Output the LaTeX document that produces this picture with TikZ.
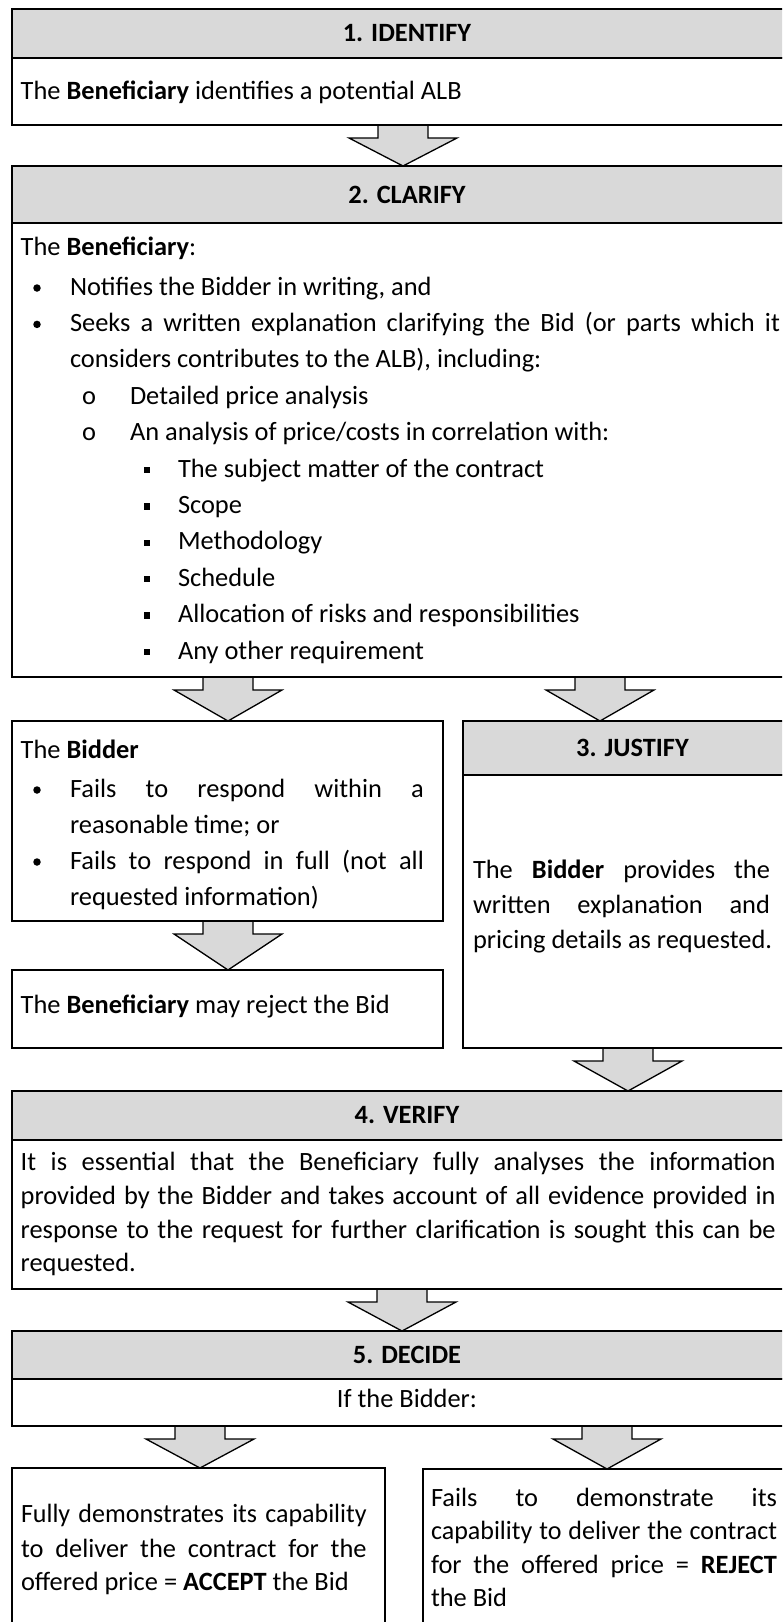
\documentclass[tikz,border=0pt]{standalone}
\usepackage{fontspec}
\usepackage{graphicx}
\setmainfont{Carlito}
\usetikzlibrary{calc}
\definecolor{hdrgray}{HTML}{D9D9D9}
\newcommand\basefont{\fontsize{26.4}{32}\selectfont}
\tikzset{
  frame/.style={draw=black, line width=2pt, anchor=north west, inner sep=0pt, outer sep=0pt},
  hdr/.style={frame, fill=hdrgray, font=\basefont\bfseries},
  bodybox/.style={frame, fill=white},
  txt/.style={anchor=base west, inner sep=0pt, outer sep=0pt, font=\basefont},
  ctxt/.style={txt, anchor=base},
  dot/.style={circle, fill=black, inner sep=0pt, minimum size=7.5pt},
  sq/.style={rectangle, fill=black, inner sep=0pt, minimum size=6.5pt},
  blockarr/.style={draw=black, line width=1.3pt, fill=hdrgray, line join=miter}
}
\newcommand\blockarrow[3]{%
  \path (#1,0 |- #2.south) coordinate (atop) (#1,0 |- #3.north) coordinate (abot);
  \draw[blockarr] ($(atop)+(-25,1)$) -- ($(atop)+(-25,13)$) -- ($(atop)+(-54,13)$) -- (abot)
    -- ($(atop)+(54,13)$) -- ($(atop)+(25,13)$) -- ($(atop)+(25,1)$);
}
% condensed justified line: unscaled width, horizontal factor, text
\newcommand\tightline[3]{\scalebox{#2}[1]{\makebox[#1][s]{#3}}}
\begin{document}
\begin{tikzpicture}[x=1pt,y=-1pt]
\useasboundingbox (0,0) rectangle (782,1622);
\fill[white] (0,0) rectangle (782,1622);
\clip (0,0) rectangle (782,1622);

% ---- 1. IDENTIFY
\node[hdr, minimum width=790pt, minimum height=48.5pt] (h1) at (12,9) {1. IDENTIFY};
\node[bodybox, minimum width=790pt, minimum height=67.5pt] (b1) at (12,57.5) {};
\node[txt] (t1) at (20.7,99) {The \textbf{Beneficiary} identifies a potential ALB};

% ---- 2. CLARIFY
\node[hdr, minimum width=790pt, minimum height=57pt] (h2) at (12,166) {2. CLARIFY};
\node[bodybox, minimum width=790pt, minimum height=454pt] (b2) at (12,223) {};
\node[txt] (c0) at (20.7,255) {The \textbf{Beneficiary}:};
\node[dot] (d1) at (37,288) {};
\node[txt] (c1) at (70,295) {Notifies the Bidder in writing, and};
\node[dot] (d2) at (37,324.4) {};
\node[txt] (c2) at (70,331.4) {\makebox[710pt][s]{Seeks a written explanation clarifying the Bid (or parts which it}};
\node[txt] (c3) at (70,367.8) {considers contributes to the ALB), including:};
\node[ctxt] (o1) at (89,404.2) {o};
\node[txt] (c4) at (130,404.2) {Detailed price analysis};
\node[ctxt] (o2) at (89,440.6) {o};
\node[txt] (c5) at (130,440.6) {An analysis of price/costs in correlation with:};
\node[sq] (s1) at (147,470) {};
\node[txt] (c6) at (178,477) {The subject matter of the contract};
\node[sq] (s2) at (147,506.4) {};
\node[txt] (c7) at (178,513.4) {Scope};
\node[sq] (s3) at (147,542.8) {};
\node[txt] (c8) at (178,549.8) {Methodology};
\node[sq] (s4) at (147,579.2) {};
\node[txt] (c9) at (178,586.2) {Schedule};
\node[sq] (s5) at (147,615.6) {};
\node[txt] (c10) at (178,622.6) {Allocation of risks and responsibilities};
\node[sq] (s6) at (147,652) {};
\node[txt] (c11) at (178,659) {Any other requirement};

% ---- Bidder fails
\node[bodybox, minimum width=431pt, minimum height=200pt] (bl) at (12,721) {};
\node[txt] (f0) at (20.7,758) {The \textbf{Bidder}};
\node[dot] (d3) at (37,790) {};
\node[txt] (f1) at (70,797) {\makebox[354pt][s]{Fails to respond within a}};
\node[txt] (f2) at (70,833) {reasonable time; or};
\node[dot] (d4) at (37,862) {};
\node[txt] (f3) at (70,869) {\makebox[354pt][s]{Fails to respond in full (not all}};
\node[txt] (f4) at (70,905) {requested information)};

% ---- Beneficiary may reject
\node[bodybox, minimum width=431pt, minimum height=78pt] (rl) at (12,970) {};
\node[txt] (m1) at (20.7,1013) {The \textbf{Beneficiary} may reject the Bid};

% ---- 3. JUSTIFY
\node[hdr, minimum width=339pt, minimum height=54pt] (h3) at (463,721) {3. JUSTIFY};
\node[bodybox, minimum width=339pt, minimum height=273pt] (b3) at (463,775) {};
\node[txt] (j1) at (473,878) {\makebox[297pt][s]{The \textbf{Bidder} provides the}};
\node[txt] (j2) at (473,913) {\makebox[297pt][s]{written explanation and}};
\node[txt] (j3) at (473,948) {pricing details as requested.};

% ---- 4. VERIFY
\node[hdr, minimum width=790pt, minimum height=49pt] (h4) at (12,1091) {4. VERIFY};
\node[bodybox, minimum width=790pt, minimum height=149pt] (b4) at (12,1140) {};
\node[txt] (v1) at (20.7,1170) {\makebox[755pt][s]{It is essential that the Beneficiary fully analyses the information}};
\node[txt] (v2) at (20.7,1204) {\makebox[755pt][s]{provided by the Bidder and takes account of all evidence provided in}};
\node[txt] (v3) at (20.7,1238) {\makebox[755pt][s]{response to the request for further clarification is sought this can be}};
\node[txt] (v4) at (20.7,1271) {requested.};

% ---- 5. DECIDE
\node[hdr, minimum width=790pt, minimum height=48pt] (h5) at (12,1331) {5. DECIDE};
\node[bodybox, minimum width=790pt, minimum height=47pt] (b5) at (12,1379) {};
\node[ctxt] (i1) at (407,1407) {If the Bidder:};

% ---- Accept / Reject
\node[bodybox, minimum width=373pt, minimum height=180pt] (ba) at (12,1468) {};
\node[txt] (a1) at (21,1522.5) {\tightline{351pt}{0.985}{Fully demonstrates its capability}};
\node[txt] (a2) at (21,1557) {\makebox[345.6pt][s]{to deliver the contract for the}};
\node[txt] (a3) at (21,1590) {offered price = \textbf{ACCEPT} the Bid};

\node[bodybox, minimum width=379pt, minimum height=180pt] (br) at (423,1469) {};
\node[txt] (r1) at (431,1506) {\makebox[346pt][s]{Fails to demonstrate its}};
\node[txt] (r2) at (431,1539) {\tightline{351.3pt}{0.985}{capability to deliver the contract}};
\node[txt] (r3) at (431,1573) {\makebox[346pt][s]{for the offered price = \textbf{REJECT}}};
\node[txt] (r4) at (431,1606) {the Bid};

% ---- block arrows
\blockarrow{403}{b1}{h2}
\blockarrow{228}{b2}{bl}
\blockarrow{600}{b2}{h3}
\blockarrow{228}{bl}{rl}
\blockarrow{628}{b3}{h4}
\blockarrow{402}{b4}{h5}
\blockarrow{200}{b5}{ba}
\blockarrow{607}{b5}{br}
\end{tikzpicture}
\end{document}
